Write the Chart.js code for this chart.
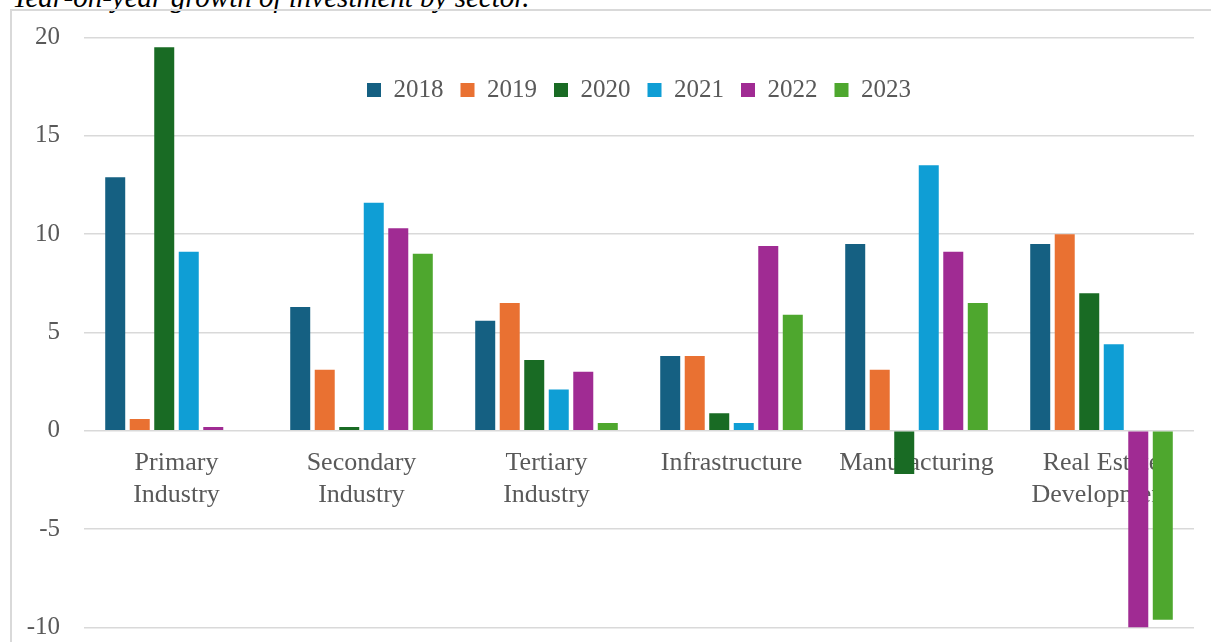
<!DOCTYPE html>
<html>
<head>
<meta charset="utf-8">
<title>Year-on-year growth of investment by sector</title>
<script src="https://cdn.jsdelivr.net/npm/chart.js"></script>
<style>
  html, body { margin: 0; padding: 0; background: #fff; overflow: hidden; }
  #page { position: relative; width: 1211px; height: 642px; overflow: hidden; }
  #caption {
    position: absolute; left: 12px; top: -19px; white-space: nowrap; line-height: 1;
    font: italic 29px "Palatino Linotype", "Book Antiqua", Palatino, "Liberation Serif", serif;
    color: #000;
  }
  #frame {
    position: absolute; left: 10px; top: 9px; width: 1400px; height: 800px;
    border: 2px solid #d9d9d9;
  }
  #wrap { position: absolute; left: 0; top: 0; width: 1211px; height: 642px; }
</style>
</head>
<body>
<div id="page">
  <div id="caption">Year-on-year growth of investment by sector.</div>
  <div id="frame"></div>
  <div id="wrap"><canvas id="growthChart"></canvas></div>
</div>
<script>
// ___________ chart data ___________ //
const categories = [
  ["Primary", "Industry"],
  ["Secondary", "Industry"],
  ["Tertiary", "Industry"],
  "Infrastructure",
  "Manufacturing",
  ["Real Estate", "Development"],
];
const years = ["2018", "2019", "2020", "2021", "2022", "2023"];
const growth2018 = [12.9, 6.3, 5.6, 3.8, 9.5, 9.5];
const growth2019 = [0.6, 3.1, 6.5, 3.8, 3.1, 10.0];
const growth2020 = [19.5, 0.2, 3.6, 0.9, -2.2, 7.0];
const growth2021 = [9.1, 11.6, 2.1, 0.4, 13.5, 4.4];
const growth2022 = [0.2, 10.3, 3.0, 9.4, 9.1, -10.0];
const growth2023 = [null, 9.0, 0.4, 5.9, 6.5, -9.6];
const yMin = -10;
const yMax = 20;
const yStep = 5;
// ___________ chart data ___________ //

const seriesValues = [growth2018, growth2019, growth2020, growth2021, growth2022, growth2023];
const seriesColors = ["#156082", "#E97132", "#196B24", "#0F9ED5", "#A02B93", "#4EA72E"];

const fontFamily = '"Palatino Linotype", "Book Antiqua", Palatino, "Liberation Serif", serif';
const textGrey = "#595959";

// ___________ legend sits inside the plot, one row under the top gridline ___________ //
const legendInPlot = {
  id: "legendInPlot",
  beforeUpdate: function (chart) {
    if (chart.legend) {
      chart.legend.isHorizontal = function () {
        return true;
      };
    }
  },
  afterLayout: function (chart) {
    const legend = chart.legend;
    const area = chart.chartArea;
    legend.left = area.left;
    legend.right = area.right;
    legend.width = area.right - area.left;
    legend.top = area.top + 23;
    legend.height = 60;
    legend.bottom = legend.top + legend.height;
  },
};

const ctx = document.getElementById("growthChart").getContext("2d");
const growthChart = new Chart(ctx, {
  type: "bar",
  data: {
    labels: categories,
    datasets: years.map(function (year, i) {
      return {
        label: year,
        data: seriesValues[i],
        backgroundColor: seriesColors[i],
        borderWidth: 0,
        categoryPercentage: 0.795,
        barPercentage: 0.816,
      };
    }),
  },
  plugins: [legendInPlot],
  options: {
    responsive: true,
    maintainAspectRatio: false,
    animation: false,
    layout: {
      padding: { left: 0, top: 37.5, right: 17, bottom: 14.5 },
    },
    plugins: {
      tooltip: { enabled: false },
      legend: {
        position: "chartArea",
        align: "center",
        labels: {
          boxWidth: 14,
          boxHeight: 14,
          padding: 17,
          color: textGrey,
          font: { family: fontFamily, size: 25 },
        },
      },
    },
    scales: {
      x: {
        position: { y: 0 },
        grid: { display: false, drawTicks: false },
        border: { display: false },
        ticks: {
          autoSkip: false,
          maxRotation: 0,
          padding: 16.5,
          color: textGrey,
          font: { family: fontFamily, size: 26, lineHeight: 1.23 },
        },
      },
      y: {
        min: yMin,
        max: yMax,
        grid: { color: "#d9d9d9", lineWidth: 1.5, drawTicks: false },
        border: { display: false },
        ticks: {
          stepSize: yStep,
          padding: 24,
          color: textGrey,
          font: { family: fontFamily, size: 25 },
        },
        afterFit: function (scale) {
          scale.width = 84; // plot starts where the gridlines start
          scale.paddingTop = 0; // layout padding alone sets the top and bottom gridlines
          scale.paddingBottom = 0;
        },
      },
    },
  },
});
</script>
</body>
</html>
